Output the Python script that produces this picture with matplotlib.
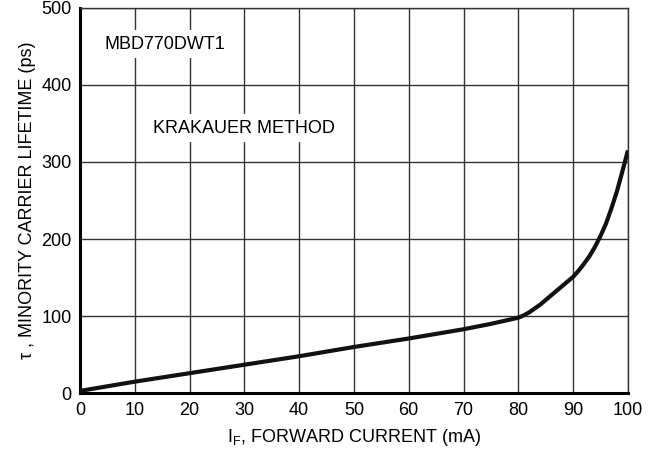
import matplotlib
matplotlib.use('Agg')
import matplotlib.pyplot as plt
from matplotlib import font_manager

# forward current (mA) vs minority carrier lifetime (ps)
current = [0, 10, 20, 30, 40, 50, 60, 70, 75, 80, 81, 82, 83, 84, 85, 86, 87, 88, 89,
           90, 91, 92, 93, 94, 95, 96, 97, 98, 99, 100]
lifetime = [3, 15, 26, 37, 48, 60, 71, 83, 90, 98, 101, 105, 110, 115, 121, 127, 133, 139, 145,
            151, 159, 168, 178, 190, 204, 220, 240, 262, 288, 315]

x_ticks = list(range(0, 101, 10))
y_ticks = list(range(0, 501, 100))

names = {f.name for f in font_manager.fontManager.ttflist}
fam = 'Liberation Sans Narrow' if 'Liberation Sans Narrow' in names else 'Liberation Sans'
plt.rcParams['font.family'] = [fam, 'DejaVu Sans']
plt.rcParams['mathtext.fontset'] = 'custom'
plt.rcParams['mathtext.rm'] = fam

fig, ax = plt.subplots(figsize=(6.5, 4.61), dpi=100)
fig.subplots_adjust(left=0.123, right=0.966, top=0.983, bottom=0.147)

ax.plot(current, lifetime, color='#111111', lw=3, solid_capstyle='butt',
        solid_joinstyle='round', zorder=3)

ax.set_xlim(0, 100)
ax.set_ylim(0, 500)
ax.set_xticks(x_ticks)
ax.set_yticks(y_ticks)
ax.tick_params(length=0, labelsize=13, pad=6)
ax.grid(True, color='#333333', lw=1)
ax.set_axisbelow(True)

for s in ['left', 'bottom']:
    ax.spines[s].set_linewidth(2.2)
for s in ['top', 'right']:
    ax.spines[s].set_linewidth(1)
    ax.spines[s].set_color('#333333')

ax.text(15.5, 453, 'MBD770DWT1', fontsize=13, ha='center', va='center',
        bbox=dict(facecolor='white', edgecolor='none', pad=4), zorder=4)
ax.text(30, 344, 'KRAKAUER METHOD', fontsize=13, ha='center', va='center',
        bbox=dict(facecolor='white', edgecolor='none', pad=4), zorder=4)

ax.set_xlabel(r'$\mathregular{I_F}$, FORWARD CURRENT (mA)', fontsize=13, labelpad=6)
ax.set_ylabel('τ , MINORITY CARRIER LIFETIME (ps)', fontsize=13, labelpad=4)

fig.savefig('out.png', dpi=100)
